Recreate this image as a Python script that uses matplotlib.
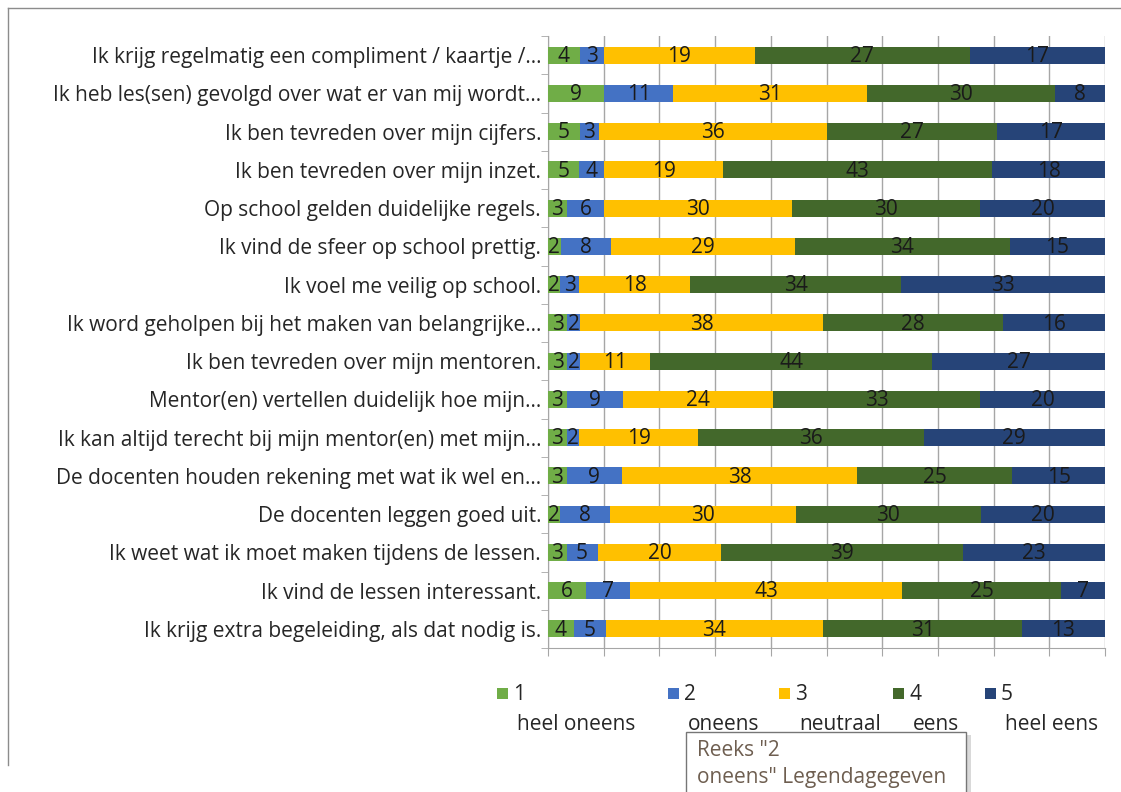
import numpy as np
import matplotlib
matplotlib.use("Agg")
import matplotlib.pyplot as plt
from matplotlib.patches import Rectangle

plt.rcParams['font.family'] = ['Open Sans', 'DejaVu Sans']

# statements, top to bottom
statements = [
    "Ik krijg regelmatig een compliment / kaartje /...",
    "Ik heb les(sen) gevolgd over wat er van mij wordt...",
    "Ik ben tevreden over mijn cijfers.",
    "Ik ben tevreden over mijn inzet.",
    "Op school gelden duidelijke regels.",
    "Ik vind de sfeer op school prettig.",
    "Ik voel me veilig op school.",
    "Ik word geholpen bij het maken van belangrijke...",
    "Ik ben tevreden over mijn mentoren.",
    "Mentor(en) vertellen duidelijk hoe mijn...",
    "Ik kan altijd terecht bij mijn mentor(en) met mijn...",
    "De docenten houden rekening met wat ik wel en...",
    "De docenten leggen goed uit.",
    "Ik weet wat ik moet maken tijdens de lessen.",
    "Ik vind de lessen interessant.",
    "Ik krijg extra begeleiding, als dat nodig is.",
]

s1 = [4, 9, 5, 5, 3, 2, 2, 3, 3, 3, 3, 3, 2, 3, 6, 4]
s2 = [3, 11, 3, 4, 6, 8, 3, 2, 2, 9, 2, 9, 8, 5, 7, 5]
s3 = [19, 31, 36, 19, 30, 29, 18, 38, 11, 24, 19, 38, 30, 20, 43, 34]
s4 = [27, 30, 27, 43, 30, 34, 34, 28, 44, 33, 36, 25, 30, 39, 25, 31]
s5 = [17, 8, 17, 18, 20, 15, 33, 16, 27, 20, 29, 15, 20, 23, 7, 13]

series_nums = ["1", "2", "3", "4", "5"]
series_names = ["heel oneens", "oneens", "neutraal", "eens", "heel eens"]
colors = ["#70AD47", "#4472C4", "#FFC000", "#43682B", "#264478"]

FS = 15
W, H = 1121, 792
fig = plt.figure(figsize=(W / 100, H / 100), dpi=100)
ax = fig.add_axes([548 / W, 1 - 648 / H, (1105 - 548) / W, (648 - 36) / H])

data = np.array([s1, s2, s3, s4, s5], dtype=float)
totals = data.sum(axis=0)
pct = data / totals
y = np.arange(len(statements))

left = np.zeros(len(statements))
for k in range(5):
    bars = ax.barh(y, pct[k], left=left, height=0.45, color=colors[k],
                   zorder=3, linewidth=0)
    for i, b in enumerate(bars):
        ax.text(left[i] + pct[k][i] / 2, y[i] + 0.03, str(int(data[k][i])),
                ha='center', va='center', fontsize=FS, color='#1a1a1a',
                zorder=4)
    left += pct[k]

ax.set_xlim(0, 1)
ax.set_ylim(len(statements) - 0.5, -0.5)
ax.set_xticks(np.linspace(0, 1, 11))
ax.set_xticklabels([])
ax.tick_params(axis='x', length=6, color='#A6A6A6', direction='out')
ax.grid(axis='x', color='#A6A6A6', linewidth=1, zorder=0)

ax.set_yticks(y)
ax.set_yticklabels(statements, fontsize=FS, color='#262626')
ax.set_yticks(np.arange(-0.5, len(statements), 1), minor=True)
ax.tick_params(axis='y', which='major', length=0, pad=5)
ax.tick_params(axis='y', which='minor', length=5, color='#A6A6A6')

for side in ['top', 'right']:
    ax.spines[side].set_visible(False)
ax.spines['left'].set_color('#A6A6A6')
ax.spines['bottom'].set_color('#A6A6A6')

# legend, laid out like the original
leg_x = [497, 668, 779, 893, 985]
for k in range(5):
    x0 = leg_x[k]
    fig.patches.append(Rectangle((x0 / W, 1 - 699 / H), 11 / W, 11 / H,
                                 transform=fig.transFigure,
                                 facecolor=colors[k], edgecolor='none'))
    fig.text((x0 + 16) / W, 1 - 694 / H, series_nums[k], fontsize=FS,
             va='center', ha='left', color='#262626')
    fig.text((x0 + 20) / W, 1 - 724 / H, series_names[k], fontsize=FS,
             va='center', ha='left', color='#262626')

# tooltip box
fig.patches.append(Rectangle((689 / W, 1 - 803 / H), 282 / W, 68 / H,
                             transform=fig.transFigure, facecolor='#D9D9D9',
                             edgecolor='none', zorder=5))
fig.patches.append(Rectangle((686 / W, 1 - 800 / H), 280 / W, 68 / H,
                             transform=fig.transFigure, facecolor='white',
                             edgecolor='#767676', linewidth=1, zorder=6))
fig.text(697 / W, 1 - 750 / H, 'Reeks "2', fontsize=FS, color='#6E5E50',
         va='center', zorder=7)
fig.text(697 / W, 1 - 778 / H, 'oneens" Legendagegeven', fontsize=FS,
         color='#6E5E50', va='center', zorder=7)

# outer chart border
fig.add_artist(plt.Line2D([8 / W, 1], [1 - 8 / H, 1 - 8 / H],
                          transform=fig.transFigure, color='#8C8C8C', lw=1))
fig.add_artist(plt.Line2D([8 / W, 8 / W], [1 - 8 / H, 1 - 765 / H],
                          transform=fig.transFigure, color='#8C8C8C', lw=1))

fig.savefig("out.png", dpi=100)
